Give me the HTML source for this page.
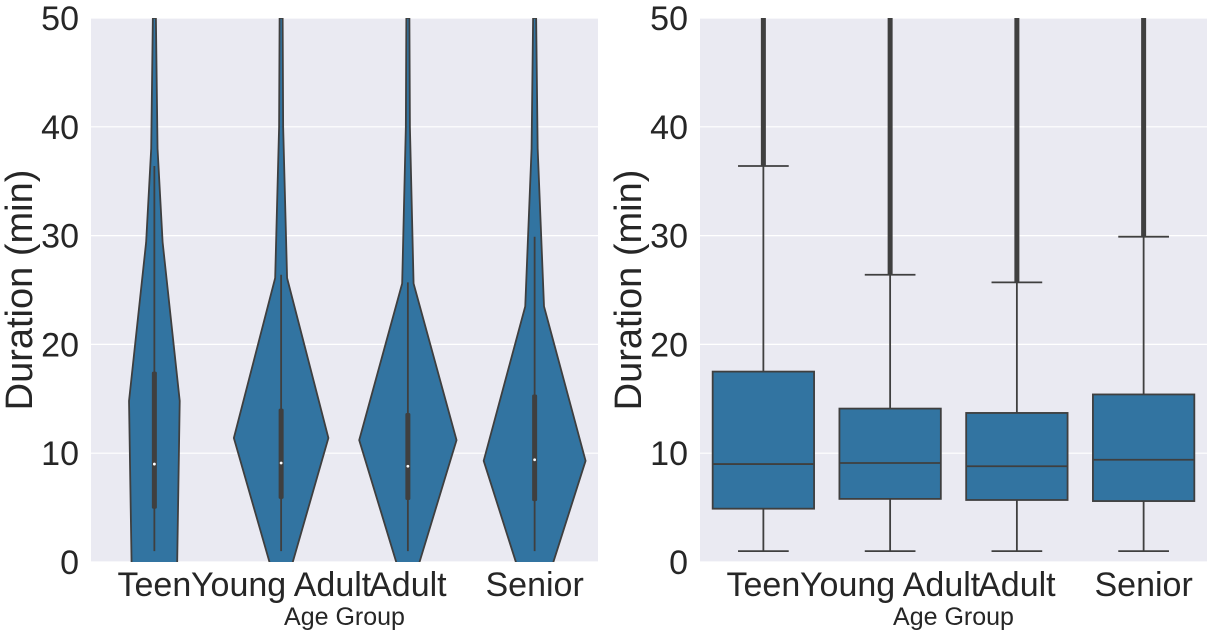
<!DOCTYPE html>
<html><head><meta charset="utf-8"><style>
html,body{margin:0;padding:0;background:#fff;}
svg{display:block;font-family:"Liberation Sans",Arial,sans-serif;}
</style></head><body>
<svg id="chart" width="1213" height="637" xmlns="http://www.w3.org/2000/svg"></svg>
<script>
const categories = ["Teen","Young Adult","Adult","Senior"];
const yTicks = [0,10,20,30,40,50];
const q1 = [4.9,5.8,5.7,5.6];
const medians = [9.0,9.1,8.8,9.4];
const q3 = [17.5,14.1,13.7,15.4];
const whiskLo = [1.0,1.0,1.0,1.0];
const whiskHi = [36.4,26.4,25.7,29.9];
const outlierMax = [50,50,50,50];
const violinLevels = [
  [-5,0,14.8,29.4,38,50],
  [-5,0,11.4,26.1,40,50],
  [-5,0,11.2,25.6,40,50],
  [-5,0,9.3,23.5,38,50]
];
const violinWidths = [
  [0.17,0.18,0.20,0.065,0.025,0.012],
  [0.04,0.092,0.373,0.047,0.016,0.012],
  [0.04,0.092,0.384,0.045,0.016,0.012],
  [0.10,0.148,0.402,0.074,0.024,0.012]
];
const NS="http://www.w3.org/2000/svg";
const svgEl=document.getElementById('chart');
function mk(t,a,p){const e=document.createElementNS(NS,t);for(const k in a)e.setAttribute(k,a[k]);(p||svgEl).appendChild(e);return e;}
const plotTop=18,plotBot=562;
const yScale=v=>plotBot-(v/50)*(plotBot-plotTop);
function panel(x0,x1,kind){
  const bw=(x1-x0)/categories.length;
  const xc=i=>x0+bw*(i+0.5);
  const g=mk('g',{});
  
  
  const clipId='clip-'+kind;
  const cp=mk('clipPath',{id:clipId},g);mk('rect',{x:x0,y:plotTop,width:x1-x0,height:plotBot-plotTop},cp);
  const bg=mk('rect',{x:x0,y:plotTop,width:x1-x0,height:plotBot-plotTop,fill:'#EAEAF2'},g);
  
  
  yTicks.forEach(t=>{
    const gl=mk('line',{x1:x0,x2:x1,y1:yScale(t),y2:yScale(t),stroke:'#fff','stroke-width':1.2},g);
    
    
    const tl=mk('text',{x:x0-12,y:yScale(t)+12,'text-anchor':'end','font-size':34,fill:'#262626'},g);
    tl.textContent=t;
    
    
  });
  const cg=mk('g',{'clip-path':'url(#'+clipId+')'},g);
  categories.forEach((c,i)=>{
    const cx=xc(i);
    if(kind==='violin'){
      const L=violinLevels[i],W=violinWidths[i];
      let pts=[];
      for(let k=0;k<L.length;k++)pts.push((cx+W[k]*bw)+','+yScale(L[k]));
      for(let k=L.length-1;k>=0;k--)pts.push((cx-W[k]*bw)+','+yScale(L[k]));
      const v=mk('polygon',{points:pts.join(' '),fill:'#3274A1',stroke:'#3f3f3f','stroke-width':1.8},cg);
      
      
      const wl=mk('line',{x1:cx,x2:cx,y1:yScale(whiskLo[i]),y2:yScale(whiskHi[i]),stroke:'#3f3f3f','stroke-width':1.8},cg);
      
      
      const b=mk('rect',{x:cx-2.5,y:yScale(q3[i]),width:5,height:yScale(q1[i])-yScale(q3[i]),fill:'#3f3f3f',rx:1.5},cg);
      
      
      const m=mk('circle',{cx:cx,cy:yScale(medians[i]),r:1.4,fill:'#fff'},cg);
      
      
    } else {
      const hw=bw*0.4, cw=bw*0.2;
      const ol=mk('line',{x1:cx,x2:cx,y1:yScale(whiskHi[i]),y2:yScale(outlierMax[i]),stroke:'#3f3f3f','stroke-width':5},cg);
      
      
      [[whiskLo[i],q1[i]],[q3[i],whiskHi[i]]].forEach(p=>{
        const l=mk('line',{x1:cx,x2:cx,y1:yScale(p[0]),y2:yScale(p[1]),stroke:'#3f3f3f','stroke-width':1.8},cg);
        
        
      });
      [whiskLo[i],whiskHi[i]].forEach(v=>{
        const l=mk('line',{x1:cx-cw,x2:cx+cw,y1:yScale(v),y2:yScale(v),stroke:'#3f3f3f','stroke-width':1.8},cg);
        
        
      });
      const b=mk('rect',{x:cx-hw,y:yScale(q3[i]),width:2*hw,height:yScale(q1[i])-yScale(q3[i]),fill:'#3274A1',stroke:'#3f3f3f','stroke-width':1.8},cg);
      
      
      const m=mk('line',{x1:cx-hw,x2:cx+hw,y1:yScale(medians[i]),y2:yScale(medians[i]),stroke:'#3f3f3f','stroke-width':1.8},cg);
      
      
    }
    const xl=mk('text',{x:cx,y:596,'text-anchor':'middle','font-size':34,fill:'#262626'},g);
    xl.textContent=c;
    
    
  });
  const xt=mk('text',{x:(x0+x1)/2,y:625,'text-anchor':'middle','font-size':25,fill:'#262626'},g);
  xt.textContent='Age Group';
  
  
  const yt=mk('text',{x:0,y:0,'text-anchor':'middle','font-size':38,fill:'#262626',transform:'translate('+(x0-59)+','+((plotTop+plotBot)/2)+') rotate(-90)'},g);
  yt.textContent='Duration (min)';
  
  
}
panel(91,598,'violin');
panel(700,1207,'box');
</script>
</body></html>
